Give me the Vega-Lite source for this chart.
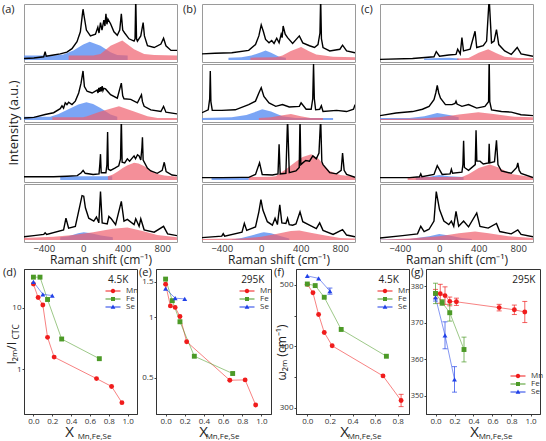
{
  "$schema": "https://vega.github.io/schema/vega-lite/v6.json",
  "padding": {"left": 2, "top": 3, "right": 0, "bottom": 0},
  "background": "white",
  "config": {
    "font": "Open Sans",
    "view": {"stroke": "#333", "strokeWidth": 1},
    "axis": {"grid": false, "titleFontWeight": "normal", "labelColor": "#333", "titleColor": "#222", "tickColor": "#444", "domainColor": "#333", "labelFontSize": 8, "tickSize": 2, "labelPadding": 1},
    "header": {"titleFontWeight": "normal"},
    "title": {"fontWeight": "normal", "fontSize": 11, "color": "#222"},
    "legend": {"title": null, "orient": "none", "labelFontSize": 8, "labelColor": "#333", "symbolSize": 25, "labelOffset": 9, "rowPadding": 0, "padding": 0, "symbolStrokeWidth": 0}
  },
  "datasets": {
    "spec": [
      {"p":"a","r":1,"k":"T","X":"X=0.22","T":"4.5K","N":"Ni₍₁₋ₓ₎MnₓPS₃"},
      {"p":"a","r":2,"k":"T","X":"X=0.22","T":"295K","N":""},
      {"p":"a","r":3,"k":"T","X":"X=0","T":"4.5K","N":""},
      {"p":"a","r":4,"k":"T","X":"X=0","T":"295K","N":""},
      {"p":"b","r":1,"k":"T","X":"X=0.7","T":"4.5K","N":"Ni₍₁₋ₓ₎FeₓPS₃"},
      {"p":"b","r":2,"k":"T","X":"X=0.7","T":"295K","N":""},
      {"p":"b","r":3,"k":"T","X":"X=0.07","T":"4.5K","N":""},
      {"p":"b","r":4,"k":"T","X":"X=0.07","T":"295K","N":""},
      {"p":"c","r":1,"k":"T","X":"X=0.2","T":"4.5K","N":"NiPS₃₋ₓSeₓ"},
      {"p":"c","r":2,"k":"T","X":"X=0.2","T":"295K","N":""},
      {"p":"c","r":3,"k":"T","X":"X=0.1","T":"4.5K","N":""},
      {"p":"c","r":4,"k":"T","X":"X=0.1","T":"295K","N":""},

      {"p":"a","r":1,"k":"L","x":-600,"y":6},{"p":"a","r":1,"k":"L","x":-500,"y":7},{"p":"a","r":1,"k":"L","x":-400,"y":9},{"p":"a","r":1,"k":"L","x":-386,"y":18},{"p":"a","r":1,"k":"L","x":-375,"y":10},{"p":"a","r":1,"k":"L","x":-300,"y":12},{"p":"a","r":1,"k":"L","x":-233,"y":14},{"p":"a","r":1,"k":"L","x":-165,"y":17},{"p":"a","r":1,"k":"L","x":-114,"y":23},{"p":"a","r":1,"k":"L","x":-63,"y":35},{"p":"a","r":1,"k":"L","x":-29,"y":52},{"p":"a","r":1,"k":"L","x":-10,"y":80},{"p":"a","r":1,"k":"L","x":-2,"y":91},{"p":"a","r":1,"k":"L","x":10,"y":78},{"p":"a","r":1,"k":"L","x":32,"y":55},{"p":"a","r":1,"k":"L","x":73,"y":45},{"p":"a","r":1,"k":"L","x":124,"y":48},{"p":"a","r":1,"k":"L","x":148,"y":60},{"p":"a","r":1,"k":"L","x":160,"y":50},{"p":"a","r":1,"k":"L","x":175,"y":68},{"p":"a","r":1,"k":"L","x":190,"y":55},{"p":"a","r":1,"k":"L","x":209,"y":72},{"p":"a","r":1,"k":"L","x":220,"y":62},{"p":"a","r":1,"k":"L","x":230,"y":83},{"p":"a","r":1,"k":"L","x":240,"y":65},{"p":"a","r":1,"k":"L","x":250,"y":74},{"p":"a","r":1,"k":"L","x":277,"y":66},{"p":"a","r":1,"k":"L","x":311,"y":52},{"p":"a","r":1,"k":"L","x":345,"y":46},{"p":"a","r":1,"k":"L","x":370,"y":55},{"p":"a","r":1,"k":"L","x":386,"y":83},{"p":"a","r":1,"k":"L","x":400,"y":55},{"p":"a","r":1,"k":"L","x":420,"y":50},{"p":"a","r":1,"k":"L","x":464,"y":40},{"p":"a","r":1,"k":"L","x":515,"y":36},{"p":"a","r":1,"k":"L","x":525,"y":40},{"p":"a","r":1,"k":"L","x":532,"y":110},{"p":"a","r":1,"k":"L","x":540,"y":40},{"p":"a","r":1,"k":"L","x":549,"y":36},{"p":"a","r":1,"k":"L","x":583,"y":45},{"p":"a","r":1,"k":"L","x":607,"y":68},{"p":"a","r":1,"k":"L","x":620,"y":45},{"p":"a","r":1,"k":"L","x":651,"y":28},{"p":"a","r":1,"k":"L","x":719,"y":25},{"p":"a","r":1,"k":"L","x":787,"y":31},{"p":"a","r":1,"k":"L","x":814,"y":41},{"p":"a","r":1,"k":"L","x":838,"y":28},{"p":"a","r":1,"k":"L","x":889,"y":20},{"p":"a","r":1,"k":"L","x":950,"y":20},
      {"p":"a","r":1,"k":"B","x":-600,"y":11},{"p":"a","r":1,"k":"B","x":-300,"y":11},{"p":"a","r":1,"k":"B","x":-200,"y":13},{"p":"a","r":1,"k":"B","x":-100,"y":20},{"p":"a","r":1,"k":"B","x":0,"y":30},{"p":"a","r":1,"k":"B","x":66,"y":35},{"p":"a","r":1,"k":"B","x":175,"y":28},{"p":"a","r":1,"k":"B","x":277,"y":17},{"p":"a","r":1,"k":"B","x":345,"y":12},{"p":"a","r":1,"k":"B","x":450,"y":11},
      {"p":"a","r":1,"k":"R","x":-148,"y":11},{"p":"a","r":1,"k":"R","x":100,"y":11},{"p":"a","r":1,"k":"R","x":175,"y":14},{"p":"a","r":1,"k":"R","x":277,"y":28},{"p":"a","r":1,"k":"R","x":396,"y":37},{"p":"a","r":1,"k":"R","x":515,"y":22},{"p":"a","r":1,"k":"R","x":617,"y":14},{"p":"a","r":1,"k":"R","x":719,"y":12},{"p":"a","r":1,"k":"R","x":950,"y":11},

      {"p":"a","r":2,"k":"L","x":-600,"y":7},{"p":"a","r":2,"k":"L","x":-500,"y":8},{"p":"a","r":2,"k":"L","x":-386,"y":13},{"p":"a","r":2,"k":"L","x":-300,"y":16},{"p":"a","r":2,"k":"L","x":-233,"y":23},{"p":"a","r":2,"k":"L","x":-215,"y":28},{"p":"a","r":2,"k":"L","x":-199,"y":24},{"p":"a","r":2,"k":"L","x":-182,"y":33},{"p":"a","r":2,"k":"L","x":-165,"y":30},{"p":"a","r":2,"k":"L","x":-148,"y":34},{"p":"a","r":2,"k":"L","x":-114,"y":30},{"p":"a","r":2,"k":"L","x":-80,"y":36},{"p":"a","r":2,"k":"L","x":-46,"y":50},{"p":"a","r":2,"k":"L","x":-22,"y":67},{"p":"a","r":2,"k":"L","x":-2,"y":88},{"p":"a","r":2,"k":"L","x":12,"y":61},{"p":"a","r":2,"k":"L","x":39,"y":53},{"p":"a","r":2,"k":"L","x":90,"y":50},{"p":"a","r":2,"k":"L","x":141,"y":55},{"p":"a","r":2,"k":"L","x":150,"y":50},{"p":"a","r":2,"k":"L","x":158,"y":59},{"p":"a","r":2,"k":"L","x":166,"y":52},{"p":"a","r":2,"k":"L","x":175,"y":60},{"p":"a","r":2,"k":"L","x":183,"y":53},{"p":"a","r":2,"k":"L","x":192,"y":62},{"p":"a","r":2,"k":"L","x":200,"y":54},{"p":"a","r":2,"k":"L","x":209,"y":58},{"p":"a","r":2,"k":"L","x":226,"y":57},{"p":"a","r":2,"k":"L","x":277,"y":47},{"p":"a","r":2,"k":"L","x":345,"y":41},{"p":"a","r":2,"k":"L","x":386,"y":67},{"p":"a","r":2,"k":"L","x":400,"y":45},{"p":"a","r":2,"k":"L","x":413,"y":40},{"p":"a","r":2,"k":"L","x":481,"y":39},{"p":"a","r":2,"k":"L","x":549,"y":33},{"p":"a","r":2,"k":"L","x":590,"y":47},{"p":"a","r":2,"k":"L","x":600,"y":35},{"p":"a","r":2,"k":"L","x":617,"y":27},{"p":"a","r":2,"k":"L","x":685,"y":21},{"p":"a","r":2,"k":"L","x":787,"y":18},{"p":"a","r":2,"k":"L","x":814,"y":27},{"p":"a","r":2,"k":"L","x":838,"y":17},{"p":"a","r":2,"k":"L","x":950,"y":14},
      {"p":"a","r":2,"k":"B","x":-600,"y":9},{"p":"a","r":2,"k":"B","x":-335,"y":9},{"p":"a","r":2,"k":"B","x":-250,"y":14},{"p":"a","r":2,"k":"B","x":-150,"y":22},{"p":"a","r":2,"k":"B","x":-50,"y":30},{"p":"a","r":2,"k":"B","x":32,"y":34},{"p":"a","r":2,"k":"B","x":100,"y":31},{"p":"a","r":2,"k":"B","x":175,"y":24},{"p":"a","r":2,"k":"B","x":277,"y":13},{"p":"a","r":2,"k":"B","x":345,"y":9},
      {"p":"a","r":2,"k":"R","x":-313,"y":8},{"p":"a","r":2,"k":"R","x":0,"y":8},{"p":"a","r":2,"k":"R","x":39,"y":10},{"p":"a","r":2,"k":"R","x":175,"y":18},{"p":"a","r":2,"k":"R","x":362,"y":27},{"p":"a","r":2,"k":"R","x":515,"y":18},{"p":"a","r":2,"k":"R","x":651,"y":10},{"p":"a","r":2,"k":"R","x":753,"y":7},{"p":"a","r":2,"k":"R","x":950,"y":7},

      {"p":"a","r":3,"k":"L","x":-600,"y":9},{"p":"a","r":3,"k":"L","x":-300,"y":9},{"p":"a","r":3,"k":"L","x":-165,"y":10},{"p":"a","r":3,"k":"L","x":-60,"y":11},{"p":"a","r":3,"k":"L","x":-20,"y":16},{"p":"a","r":3,"k":"L","x":-1,"y":20},{"p":"a","r":3,"k":"L","x":20,"y":15},{"p":"a","r":3,"k":"L","x":100,"y":13},{"p":"a","r":3,"k":"L","x":160,"y":14},{"p":"a","r":3,"k":"L","x":168,"y":30},{"p":"a","r":3,"k":"L","x":175,"y":48},{"p":"a","r":3,"k":"L","x":182,"y":16},{"p":"a","r":3,"k":"L","x":230,"y":16},{"p":"a","r":3,"k":"L","x":240,"y":30},{"p":"a","r":3,"k":"L","x":247,"y":86},{"p":"a","r":3,"k":"L","x":254,"y":22},{"p":"a","r":3,"k":"L","x":277,"y":20},{"p":"a","r":3,"k":"L","x":320,"y":24},{"p":"a","r":3,"k":"L","x":360,"y":28},{"p":"a","r":3,"k":"L","x":378,"y":40},{"p":"a","r":3,"k":"L","x":386,"y":110},{"p":"a","r":3,"k":"L","x":394,"y":34},{"p":"a","r":3,"k":"L","x":420,"y":33},{"p":"a","r":3,"k":"L","x":447,"y":40},{"p":"a","r":3,"k":"L","x":470,"y":36},{"p":"a","r":3,"k":"L","x":500,"y":42},{"p":"a","r":3,"k":"L","x":515,"y":45},{"p":"a","r":3,"k":"L","x":530,"y":40},{"p":"a","r":3,"k":"L","x":550,"y":47},{"p":"a","r":3,"k":"L","x":566,"y":45},{"p":"a","r":3,"k":"L","x":583,"y":38},{"p":"a","r":3,"k":"L","x":595,"y":60},{"p":"a","r":3,"k":"L","x":600,"y":77},{"p":"a","r":3,"k":"L","x":607,"y":38},{"p":"a","r":3,"k":"L","x":650,"y":24},{"p":"a","r":3,"k":"L","x":685,"y":19},{"p":"a","r":3,"k":"L","x":750,"y":15},{"p":"a","r":3,"k":"L","x":800,"y":20},{"p":"a","r":3,"k":"L","x":821,"y":34},{"p":"a","r":3,"k":"L","x":840,"y":18},{"p":"a","r":3,"k":"L","x":900,"y":12},{"p":"a","r":3,"k":"L","x":950,"y":11},
      {"p":"a","r":3,"k":"B","x":-233,"y":10},{"p":"a","r":3,"k":"B","x":294,"y":10},
      {"p":"a","r":3,"k":"R","x":250,"y":10},{"p":"a","r":3,"k":"R","x":300,"y":13},{"p":"a","r":3,"k":"R","x":350,"y":18},{"p":"a","r":3,"k":"R","x":400,"y":24},{"p":"a","r":3,"k":"R","x":450,"y":29},{"p":"a","r":3,"k":"R","x":515,"y":33},{"p":"a","r":3,"k":"R","x":560,"y":32},{"p":"a","r":3,"k":"R","x":620,"y":27},{"p":"a","r":3,"k":"R","x":685,"y":20},{"p":"a","r":3,"k":"R","x":750,"y":14},{"p":"a","r":3,"k":"R","x":820,"y":11},{"p":"a","r":3,"k":"R","x":950,"y":9},

      {"p":"a","r":4,"k":"L","x":-600,"y":9},{"p":"a","r":4,"k":"L","x":-500,"y":11},{"p":"a","r":4,"k":"L","x":-400,"y":13},{"p":"a","r":4,"k":"L","x":-386,"y":16},{"p":"a","r":4,"k":"L","x":-370,"y":13},{"p":"a","r":4,"k":"L","x":-199,"y":21},{"p":"a","r":4,"k":"L","x":-175,"y":41},{"p":"a","r":4,"k":"L","x":-148,"y":24},{"p":"a","r":4,"k":"L","x":-80,"y":27},{"p":"a","r":4,"k":"L","x":-36,"y":61},{"p":"a","r":4,"k":"L","x":-12,"y":80},{"p":"a","r":4,"k":"L","x":5,"y":79},{"p":"a","r":4,"k":"L","x":22,"y":59},{"p":"a","r":4,"k":"L","x":56,"y":41},{"p":"a","r":4,"k":"L","x":107,"y":36},{"p":"a","r":4,"k":"L","x":134,"y":43},{"p":"a","r":4,"k":"L","x":158,"y":33},{"p":"a","r":4,"k":"L","x":175,"y":87},{"p":"a","r":4,"k":"L","x":192,"y":33},{"p":"a","r":4,"k":"L","x":243,"y":31},{"p":"a","r":4,"k":"L","x":260,"y":44},{"p":"a","r":4,"k":"L","x":284,"y":40},{"p":"a","r":4,"k":"L","x":328,"y":30},{"p":"a","r":4,"k":"L","x":386,"y":70},{"p":"a","r":4,"k":"L","x":413,"y":36},{"p":"a","r":4,"k":"L","x":447,"y":39},{"p":"a","r":4,"k":"L","x":515,"y":30},{"p":"a","r":4,"k":"L","x":532,"y":40},{"p":"a","r":4,"k":"L","x":566,"y":27},{"p":"a","r":4,"k":"L","x":583,"y":40},{"p":"a","r":4,"k":"L","x":617,"y":21},{"p":"a","r":4,"k":"L","x":719,"y":17},{"p":"a","r":4,"k":"L","x":814,"y":27},{"p":"a","r":4,"k":"L","x":855,"y":14},{"p":"a","r":4,"k":"L","x":950,"y":11},
      {"p":"a","r":4,"k":"B","x":-233,"y":8},{"p":"a","r":4,"k":"B","x":-150,"y":10},{"p":"a","r":4,"k":"B","x":-50,"y":15},{"p":"a","r":4,"k":"B","x":5,"y":17},{"p":"a","r":4,"k":"B","x":80,"y":15},{"p":"a","r":4,"k":"B","x":180,"y":11},{"p":"a","r":4,"k":"B","x":300,"y":8},
      {"p":"a","r":4,"k":"R","x":-600,"y":7},{"p":"a","r":4,"k":"R","x":-300,"y":9},{"p":"a","r":4,"k":"R","x":-100,"y":12},{"p":"a","r":4,"k":"R","x":100,"y":17},{"p":"a","r":4,"k":"R","x":300,"y":23},{"p":"a","r":4,"k":"R","x":447,"y":25},{"p":"a","r":4,"k":"R","x":600,"y":19},{"p":"a","r":4,"k":"R","x":750,"y":12},{"p":"a","r":4,"k":"R","x":950,"y":8},

      {"p":"b","r":1,"k":"L","x":-600,"y":14},{"p":"b","r":1,"k":"L","x":-468,"y":15},{"p":"b","r":1,"k":"L","x":-298,"y":16},{"p":"b","r":1,"k":"L","x":-127,"y":20},{"p":"b","r":1,"k":"L","x":-58,"y":30},{"p":"b","r":1,"k":"L","x":-24,"y":45},{"p":"b","r":1,"k":"L","x":0,"y":64},{"p":"b","r":1,"k":"L","x":21,"y":53},{"p":"b","r":1,"k":"L","x":44,"y":39},{"p":"b","r":1,"k":"L","x":79,"y":33},{"p":"b","r":1,"k":"L","x":106,"y":37},{"p":"b","r":1,"k":"L","x":130,"y":32},{"p":"b","r":1,"k":"L","x":157,"y":41},{"p":"b","r":1,"k":"L","x":181,"y":33},{"p":"b","r":1,"k":"L","x":202,"y":48},{"p":"b","r":1,"k":"L","x":212,"y":42},{"p":"b","r":1,"k":"L","x":222,"y":62},{"p":"b","r":1,"k":"L","x":243,"y":48},{"p":"b","r":1,"k":"L","x":267,"y":42},{"p":"b","r":1,"k":"L","x":318,"y":32},{"p":"b","r":1,"k":"L","x":386,"y":45},{"p":"b","r":1,"k":"L","x":421,"y":33},{"p":"b","r":1,"k":"L","x":489,"y":28},{"p":"b","r":1,"k":"L","x":540,"y":25},{"p":"b","r":1,"k":"L","x":575,"y":30},{"p":"b","r":1,"k":"L","x":595,"y":50},{"p":"b","r":1,"k":"L","x":602,"y":110},{"p":"b","r":1,"k":"L","x":610,"y":40},{"p":"b","r":1,"k":"L","x":626,"y":25},{"p":"b","r":1,"k":"L","x":694,"y":19},{"p":"b","r":1,"k":"L","x":797,"y":22},{"p":"b","r":1,"k":"L","x":824,"y":29},{"p":"b","r":1,"k":"L","x":865,"y":19},{"p":"b","r":1,"k":"L","x":950,"y":16},
      {"p":"b","r":1,"k":"B","x":-332,"y":7.5},{"p":"b","r":1,"k":"B","x":-200,"y":8},{"p":"b","r":1,"k":"B","x":-100,"y":11},{"p":"b","r":1,"k":"B","x":0,"y":17},{"p":"b","r":1,"k":"B","x":44,"y":20},{"p":"b","r":1,"k":"B","x":100,"y":16},{"p":"b","r":1,"k":"B","x":181,"y":9},{"p":"b","r":1,"k":"B","x":250,"y":7.5},
      {"p":"b","r":1,"k":"R","x":-109,"y":7.5},{"p":"b","r":1,"k":"R","x":150,"y":8},{"p":"b","r":1,"k":"R","x":215,"y":11},{"p":"b","r":1,"k":"R","x":300,"y":19},{"p":"b","r":1,"k":"R","x":404,"y":26},{"p":"b","r":1,"k":"R","x":480,"y":19},{"p":"b","r":1,"k":"R","x":557,"y":13},{"p":"b","r":1,"k":"R","x":728,"y":9},{"p":"b","r":1,"k":"R","x":950,"y":8},

      {"p":"b","r":2,"k":"L","x":-600,"y":16},{"p":"b","r":2,"k":"L","x":-537,"y":21},{"p":"b","r":2,"k":"L","x":-522,"y":40},{"p":"b","r":2,"k":"L","x":-516,"y":88},{"p":"b","r":2,"k":"L","x":-510,"y":35},{"p":"b","r":2,"k":"L","x":-496,"y":20},{"p":"b","r":2,"k":"L","x":-400,"y":20},{"p":"b","r":2,"k":"L","x":-263,"y":21},{"p":"b","r":2,"k":"L","x":-127,"y":30},{"p":"b","r":2,"k":"L","x":-58,"y":36},{"p":"b","r":2,"k":"L","x":-24,"y":50},{"p":"b","r":2,"k":"L","x":0,"y":59},{"p":"b","r":2,"k":"L","x":27,"y":44},{"p":"b","r":2,"k":"L","x":79,"y":33},{"p":"b","r":2,"k":"L","x":147,"y":27},{"p":"b","r":2,"k":"L","x":215,"y":30},{"p":"b","r":2,"k":"L","x":284,"y":26},{"p":"b","r":2,"k":"L","x":386,"y":27},{"p":"b","r":2,"k":"L","x":404,"y":33},{"p":"b","r":2,"k":"L","x":455,"y":22},{"p":"b","r":2,"k":"L","x":506,"y":22},{"p":"b","r":2,"k":"L","x":522,"y":40},{"p":"b","r":2,"k":"L","x":530,"y":100},{"p":"b","r":2,"k":"L","x":538,"y":40},{"p":"b","r":2,"k":"L","x":551,"y":21},{"p":"b","r":2,"k":"L","x":592,"y":22},{"p":"b","r":2,"k":"L","x":609,"y":28},{"p":"b","r":2,"k":"L","x":626,"y":18},{"p":"b","r":2,"k":"L","x":763,"y":20},{"p":"b","r":2,"k":"L","x":865,"y":18},{"p":"b","r":2,"k":"L","x":935,"y":22},{"p":"b","r":2,"k":"L","x":950,"y":30},
      {"p":"b","r":2,"k":"B","x":-600,"y":7},{"p":"b","r":2,"k":"B","x":-300,"y":8},{"p":"b","r":2,"k":"B","x":-150,"y":12},{"p":"b","r":2,"k":"B","x":-50,"y":18},{"p":"b","r":2,"k":"B","x":10,"y":22},{"p":"b","r":2,"k":"B","x":100,"y":18},{"p":"b","r":2,"k":"B","x":215,"y":10},{"p":"b","r":2,"k":"B","x":350,"y":7},{"p":"b","r":2,"k":"B","x":728,"y":7},
      {"p":"b","r":2,"k":"R","x":-24,"y":7},{"p":"b","r":2,"k":"R","x":100,"y":8},{"p":"b","r":2,"k":"R","x":200,"y":11},{"p":"b","r":2,"k":"R","x":301,"y":14},{"p":"b","r":2,"k":"R","x":400,"y":10},{"p":"b","r":2,"k":"R","x":500,"y":7},{"p":"b","r":2,"k":"R","x":626,"y":7},

      {"p":"b","r":3,"k":"L","x":-600,"y":7.5},{"p":"b","r":3,"k":"L","x":-400,"y":7.5},{"p":"b","r":3,"k":"L","x":-200,"y":8},{"p":"b","r":3,"k":"L","x":-126,"y":8},{"p":"b","r":3,"k":"L","x":-58,"y":13},{"p":"b","r":3,"k":"L","x":-17,"y":33},{"p":"b","r":3,"k":"L","x":10,"y":13},{"p":"b","r":3,"k":"L","x":113,"y":12},{"p":"b","r":3,"k":"L","x":170,"y":14},{"p":"b","r":3,"k":"L","x":181,"y":65},{"p":"b","r":3,"k":"L","x":192,"y":14},{"p":"b","r":3,"k":"L","x":250,"y":15},{"p":"b","r":3,"k":"L","x":267,"y":110},{"p":"b","r":3,"k":"L","x":284,"y":16},{"p":"b","r":3,"k":"L","x":352,"y":19},{"p":"b","r":3,"k":"L","x":385,"y":25},{"p":"b","r":3,"k":"L","x":393,"y":110},{"p":"b","r":3,"k":"L","x":401,"y":30},{"p":"b","r":3,"k":"L","x":421,"y":33},{"p":"b","r":3,"k":"L","x":451,"y":37},{"p":"b","r":3,"k":"L","x":489,"y":36},{"p":"b","r":3,"k":"L","x":523,"y":45},{"p":"b","r":3,"k":"L","x":558,"y":40},{"p":"b","r":3,"k":"L","x":585,"y":50},{"p":"b","r":3,"k":"L","x":602,"y":110},{"p":"b","r":3,"k":"L","x":614,"y":35},{"p":"b","r":3,"k":"L","x":626,"y":30},{"p":"b","r":3,"k":"L","x":694,"y":16},{"p":"b","r":3,"k":"L","x":763,"y":14},{"p":"b","r":3,"k":"L","x":810,"y":20},{"p":"b","r":3,"k":"L","x":824,"y":50},{"p":"b","r":3,"k":"L","x":840,"y":20},{"p":"b","r":3,"k":"L","x":865,"y":13},{"p":"b","r":3,"k":"L","x":950,"y":8},
      {"p":"b","r":3,"k":"B","x":-503,"y":8.6},{"p":"b","r":3,"k":"B","x":-126,"y":8.6},
      {"p":"b","r":3,"k":"R","x":-126,"y":8.6},{"p":"b","r":3,"k":"R","x":100,"y":9},{"p":"b","r":3,"k":"R","x":147,"y":10},{"p":"b","r":3,"k":"R","x":250,"y":22},{"p":"b","r":3,"k":"R","x":350,"y":35},{"p":"b","r":3,"k":"R","x":420,"y":43},{"p":"b","r":3,"k":"R","x":506,"y":48},{"p":"b","r":3,"k":"R","x":580,"y":40},{"p":"b","r":3,"k":"R","x":640,"y":28},{"p":"b","r":3,"k":"R","x":694,"y":19},{"p":"b","r":3,"k":"R","x":800,"y":12},{"p":"b","r":3,"k":"R","x":950,"y":9},

      {"p":"b","r":4,"k":"L","x":-600,"y":7.6},{"p":"b","r":4,"k":"L","x":-400,"y":10},{"p":"b","r":4,"k":"L","x":-385,"y":14.5},{"p":"b","r":4,"k":"L","x":-370,"y":10},{"p":"b","r":4,"k":"L","x":-195,"y":17},{"p":"b","r":4,"k":"L","x":-171,"y":32},{"p":"b","r":4,"k":"L","x":-147,"y":20},{"p":"b","r":4,"k":"L","x":-58,"y":26},{"p":"b","r":4,"k":"L","x":-24,"y":52},{"p":"b","r":4,"k":"L","x":-3,"y":73},{"p":"b","r":4,"k":"L","x":17,"y":55},{"p":"b","r":4,"k":"L","x":62,"y":35},{"p":"b","r":4,"k":"L","x":113,"y":29},{"p":"b","r":4,"k":"L","x":140,"y":41},{"p":"b","r":4,"k":"L","x":164,"y":30},{"p":"b","r":4,"k":"L","x":188,"y":64},{"p":"b","r":4,"k":"L","x":209,"y":33},{"p":"b","r":4,"k":"L","x":250,"y":32},{"p":"b","r":4,"k":"L","x":267,"y":41},{"p":"b","r":4,"k":"L","x":284,"y":30},{"p":"b","r":4,"k":"L","x":318,"y":29},{"p":"b","r":4,"k":"L","x":352,"y":31},{"p":"b","r":4,"k":"L","x":393,"y":52},{"p":"b","r":4,"k":"L","x":421,"y":35},{"p":"b","r":4,"k":"L","x":489,"y":29},{"p":"b","r":4,"k":"L","x":558,"y":23},{"p":"b","r":4,"k":"L","x":592,"y":33},{"p":"b","r":4,"k":"L","x":626,"y":20},{"p":"b","r":4,"k":"L","x":728,"y":13},{"p":"b","r":4,"k":"L","x":824,"y":21.5},{"p":"b","r":4,"k":"L","x":865,"y":12},{"p":"b","r":4,"k":"L","x":950,"y":9},
      {"p":"b","r":4,"k":"B","x":-298,"y":4.5},{"p":"b","r":4,"k":"B","x":-200,"y":7},{"p":"b","r":4,"k":"B","x":-100,"y":11},{"p":"b","r":4,"k":"B","x":0,"y":16},{"p":"b","r":4,"k":"B","x":27,"y":17},{"p":"b","r":4,"k":"B","x":100,"y":15},{"p":"b","r":4,"k":"B","x":200,"y":10},{"p":"b","r":4,"k":"B","x":284,"y":6},
      {"p":"b","r":4,"k":"R","x":-600,"y":5},{"p":"b","r":4,"k":"R","x":-200,"y":6},{"p":"b","r":4,"k":"R","x":0,"y":9},{"p":"b","r":4,"k":"R","x":150,"y":14},{"p":"b","r":4,"k":"R","x":300,"y":19},{"p":"b","r":4,"k":"R","x":386,"y":20},{"p":"b","r":4,"k":"R","x":500,"y":16},{"p":"b","r":4,"k":"R","x":650,"y":11},{"p":"b","r":4,"k":"R","x":800,"y":7},{"p":"b","r":4,"k":"R","x":950,"y":6},

      {"p":"c","r":1,"k":"L","x":-600,"y":4.6},{"p":"c","r":1,"k":"L","x":-270,"y":6},{"p":"c","r":1,"k":"L","x":-53,"y":9},{"p":"c","r":1,"k":"L","x":-30,"y":18},{"p":"c","r":1,"k":"L","x":3,"y":10},{"p":"c","r":1,"k":"L","x":97,"y":12},{"p":"c","r":1,"k":"L","x":170,"y":13},{"p":"c","r":1,"k":"L","x":187,"y":22},{"p":"c","r":1,"k":"L","x":213,"y":14},{"p":"c","r":1,"k":"L","x":230,"y":42},{"p":"c","r":1,"k":"L","x":246,"y":19},{"p":"c","r":1,"k":"L","x":313,"y":22},{"p":"c","r":1,"k":"L","x":363,"y":53},{"p":"c","r":1,"k":"L","x":380,"y":25},{"p":"c","r":1,"k":"L","x":446,"y":28},{"p":"c","r":1,"k":"L","x":480,"y":36},{"p":"c","r":1,"k":"L","x":506,"y":110},{"p":"c","r":1,"k":"L","x":530,"y":33},{"p":"c","r":1,"k":"L","x":556,"y":36},{"p":"c","r":1,"k":"L","x":580,"y":56},{"p":"c","r":1,"k":"L","x":603,"y":30},{"p":"c","r":1,"k":"L","x":663,"y":19},{"p":"c","r":1,"k":"L","x":730,"y":13},{"p":"c","r":1,"k":"L","x":790,"y":25},{"p":"c","r":1,"k":"L","x":829,"y":14},{"p":"c","r":1,"k":"L","x":950,"y":10},
      {"p":"c","r":1,"k":"B","x":-153,"y":6},{"p":"c","r":1,"k":"B","x":0,"y":7},{"p":"c","r":1,"k":"B","x":100,"y":7.5},{"p":"c","r":1,"k":"B","x":197,"y":6},
      {"p":"c","r":1,"k":"R","x":180,"y":6},{"p":"c","r":1,"k":"R","x":297,"y":7},{"p":"c","r":1,"k":"R","x":400,"y":16},{"p":"c","r":1,"k":"R","x":496,"y":22},{"p":"c","r":1,"k":"R","x":580,"y":15},{"p":"c","r":1,"k":"R","x":663,"y":9},{"p":"c","r":1,"k":"R","x":800,"y":7},{"p":"c","r":1,"k":"R","x":950,"y":7},

      {"p":"c","r":2,"k":"L","x":-600,"y":11},{"p":"c","r":2,"k":"L","x":-437,"y":15.5},{"p":"c","r":2,"k":"L","x":-270,"y":18},{"p":"c","r":2,"k":"L","x":-170,"y":22},{"p":"c","r":2,"k":"L","x":-103,"y":27},{"p":"c","r":2,"k":"L","x":-53,"y":38.5},{"p":"c","r":2,"k":"L","x":-35,"y":50},{"p":"c","r":2,"k":"L","x":-20,"y":63},{"p":"c","r":2,"k":"L","x":-5,"y":50},{"p":"c","r":2,"k":"L","x":13,"y":41},{"p":"c","r":2,"k":"L","x":63,"y":30},{"p":"c","r":2,"k":"L","x":130,"y":30},{"p":"c","r":2,"k":"L","x":160,"y":32},{"p":"c","r":2,"k":"L","x":170,"y":36},{"p":"c","r":2,"k":"L","x":180,"y":31},{"p":"c","r":2,"k":"L","x":230,"y":27},{"p":"c","r":2,"k":"L","x":297,"y":30},{"p":"c","r":2,"k":"L","x":380,"y":24},{"p":"c","r":2,"k":"L","x":463,"y":27},{"p":"c","r":2,"k":"L","x":500,"y":35},{"p":"c","r":2,"k":"L","x":506,"y":110},{"p":"c","r":2,"k":"L","x":512,"y":35},{"p":"c","r":2,"k":"L","x":530,"y":21},{"p":"c","r":2,"k":"L","x":630,"y":18},{"p":"c","r":2,"k":"L","x":730,"y":17},{"p":"c","r":2,"k":"L","x":829,"y":12.6},{"p":"c","r":2,"k":"L","x":950,"y":11},
      {"p":"c","r":2,"k":"B","x":-600,"y":7},{"p":"c","r":2,"k":"B","x":-300,"y":7},{"p":"c","r":2,"k":"B","x":-150,"y":10},{"p":"c","r":2,"k":"B","x":-20,"y":15.5},{"p":"c","r":2,"k":"B","x":100,"y":12},{"p":"c","r":2,"k":"B","x":197,"y":8},
      {"p":"c","r":2,"k":"R","x":-600,"y":5},{"p":"c","r":2,"k":"R","x":-200,"y":6},{"p":"c","r":2,"k":"R","x":0,"y":8},{"p":"c","r":2,"k":"R","x":200,"y":13},{"p":"c","r":2,"k":"R","x":396,"y":17},{"p":"c","r":2,"k":"R","x":550,"y":14},{"p":"c","r":2,"k":"R","x":763,"y":9},{"p":"c","r":2,"k":"R","x":950,"y":8},

      {"p":"c","r":3,"k":"L","x":-600,"y":7.6},{"p":"c","r":3,"k":"L","x":-300,"y":7.6},{"p":"c","r":3,"k":"L","x":-200,"y":9},{"p":"c","r":3,"k":"L","x":-187,"y":14},{"p":"c","r":3,"k":"L","x":-175,"y":9},{"p":"c","r":3,"k":"L","x":-53,"y":13},{"p":"c","r":3,"k":"L","x":-20,"y":28},{"p":"c","r":3,"k":"L","x":30,"y":13},{"p":"c","r":3,"k":"L","x":110,"y":14},{"p":"c","r":3,"k":"L","x":123,"y":22},{"p":"c","r":3,"k":"L","x":135,"y":15},{"p":"c","r":3,"k":"L","x":230,"y":17},{"p":"c","r":3,"k":"L","x":240,"y":30},{"p":"c","r":3,"k":"L","x":247,"y":71},{"p":"c","r":3,"k":"L","x":255,"y":25},{"p":"c","r":3,"k":"L","x":297,"y":20},{"p":"c","r":3,"k":"L","x":365,"y":30},{"p":"c","r":3,"k":"L","x":373,"y":89},{"p":"c","r":3,"k":"L","x":381,"y":36},{"p":"c","r":3,"k":"L","x":413,"y":36},{"p":"c","r":3,"k":"L","x":446,"y":31},{"p":"c","r":3,"k":"L","x":500,"y":33},{"p":"c","r":3,"k":"L","x":506,"y":66},{"p":"c","r":3,"k":"L","x":513,"y":33},{"p":"c","r":3,"k":"L","x":560,"y":35},{"p":"c","r":3,"k":"L","x":580,"y":72},{"p":"c","r":3,"k":"L","x":595,"y":30},{"p":"c","r":3,"k":"L","x":630,"y":19},{"p":"c","r":3,"k":"L","x":730,"y":15},{"p":"c","r":3,"k":"L","x":785,"y":25},{"p":"c","r":3,"k":"L","x":796,"y":33},{"p":"c","r":3,"k":"L","x":810,"y":20},{"p":"c","r":3,"k":"L","x":829,"y":15},{"p":"c","r":3,"k":"L","x":950,"y":7.6},
      {"p":"c","r":3,"k":"B","x":-237,"y":8.6},{"p":"c","r":3,"k":"B","x":-100,"y":9},{"p":"c","r":3,"k":"B","x":0,"y":12},{"p":"c","r":3,"k":"B","x":100,"y":10},{"p":"c","r":3,"k":"B","x":247,"y":8.6},
      {"p":"c","r":3,"k":"R","x":-320,"y":8.6},{"p":"c","r":3,"k":"R","x":230,"y":8.6},{"p":"c","r":3,"k":"R","x":300,"y":14},{"p":"c","r":3,"k":"R","x":400,"y":24},{"p":"c","r":3,"k":"R","x":513,"y":30},{"p":"c","r":3,"k":"R","x":600,"y":25},{"p":"c","r":3,"k":"R","x":730,"y":14},{"p":"c","r":3,"k":"R","x":950,"y":8},

      {"p":"c","r":4,"k":"L","x":-600,"y":7},{"p":"c","r":4,"k":"L","x":-370,"y":11},{"p":"c","r":4,"k":"L","x":-220,"y":14},{"p":"c","r":4,"k":"L","x":-187,"y":27},{"p":"c","r":4,"k":"L","x":-153,"y":18},{"p":"c","r":4,"k":"L","x":-103,"y":22},{"p":"c","r":4,"k":"L","x":-53,"y":36},{"p":"c","r":4,"k":"L","x":-30,"y":87},{"p":"c","r":4,"k":"L","x":3,"y":56},{"p":"c","r":4,"k":"L","x":47,"y":36},{"p":"c","r":4,"k":"L","x":97,"y":30},{"p":"c","r":4,"k":"L","x":123,"y":36},{"p":"c","r":4,"k":"L","x":147,"y":27},{"p":"c","r":4,"k":"L","x":170,"y":53},{"p":"c","r":4,"k":"L","x":197,"y":27},{"p":"c","r":4,"k":"L","x":247,"y":36},{"p":"c","r":4,"k":"L","x":297,"y":26},{"p":"c","r":4,"k":"L","x":380,"y":50},{"p":"c","r":4,"k":"L","x":413,"y":27},{"p":"c","r":4,"k":"L","x":496,"y":24},{"p":"c","r":4,"k":"L","x":580,"y":32},{"p":"c","r":4,"k":"L","x":613,"y":18},{"p":"c","r":4,"k":"L","x":730,"y":14},{"p":"c","r":4,"k":"L","x":796,"y":21},{"p":"c","r":4,"k":"L","x":829,"y":13},{"p":"c","r":4,"k":"L","x":950,"y":9},
      {"p":"c","r":4,"k":"B","x":-600,"y":4},{"p":"c","r":4,"k":"B","x":-300,"y":5},{"p":"c","r":4,"k":"B","x":-100,"y":10},{"p":"c","r":4,"k":"B","x":0,"y":14},{"p":"c","r":4,"k":"B","x":100,"y":11},{"p":"c","r":4,"k":"B","x":230,"y":7},{"p":"c","r":4,"k":"B","x":330,"y":5},
      {"p":"c","r":4,"k":"R","x":-600,"y":4},{"p":"c","r":4,"k":"R","x":-300,"y":6},{"p":"c","r":4,"k":"R","x":0,"y":10},{"p":"c","r":4,"k":"R","x":200,"y":15},{"p":"c","r":4,"k":"R","x":363,"y":18},{"p":"c","r":4,"k":"R","x":500,"y":15},{"p":"c","r":4,"k":"R","x":700,"y":10},{"p":"c","r":4,"k":"R","x":950,"y":7}
    ],
    "pts": [
      {"g":"d","s":"Mn","x":0,"y":24},{"g":"d","s":"Mn","x":0.05,"y":14.5},{"g":"d","s":"Mn","x":0.1,"y":11},{"g":"d","s":"Mn","x":0.15,"y":3.3},{"g":"d","s":"Mn","x":0.22,"y":1.58},{"g":"d","s":"Mn","x":0.67,"y":0.71},{"g":"d","s":"Mn","x":0.83,"y":0.53},{"g":"d","s":"Mn","x":0.94,"y":0.29},
      {"g":"d","s":"Fe","x":0,"y":31},{"g":"d","s":"Fe","x":0.07,"y":31},{"g":"d","s":"Fe","x":0.15,"y":13.5},{"g":"d","s":"Fe","x":0.3,"y":3.1},{"g":"d","s":"Fe","x":0.7,"y":1.49},
      {"g":"d","s":"Se","x":0,"y":26},{"g":"d","s":"Se","x":0.1,"y":16.4},{"g":"d","s":"Se","x":0.2,"y":15.6},
      {"g":"e","s":"Mn","x":0,"y":1.46},{"g":"e","s":"Mn","x":0.05,"y":1.14},{"g":"e","s":"Mn","x":0.1,"y":1.12},{"g":"e","s":"Mn","x":0.15,"y":1.01},{"g":"e","s":"Mn","x":0.22,"y":0.756},{"g":"e","s":"Mn","x":0.67,"y":0.486},{"g":"e","s":"Mn","x":0.83,"y":0.488},{"g":"e","s":"Mn","x":0.94,"y":0.366},
      {"g":"e","s":"Fe","x":0,"y":1.55},{"g":"e","s":"Fe","x":0.07,"y":1.21},{"g":"e","s":"Fe","x":0.15,"y":0.95},{"g":"e","s":"Fe","x":0.3,"y":0.64},{"g":"e","s":"Fe","x":0.7,"y":0.525},
      {"g":"e","s":"Se","x":0,"y":1.39},{"g":"e","s":"Se","x":0.1,"y":1.245},{"g":"e","s":"Se","x":0.2,"y":1.235},
      {"g":"f","s":"Mn","x":0,"y":501},{"g":"f","s":"Mn","x":0.05,"y":487.4},{"g":"f","s":"Mn","x":0.1,"y":452},{"g":"f","s":"Mn","x":0.15,"y":422.7},{"g":"f","s":"Mn","x":0.22,"y":401},{"g":"f","s":"Mn","x":0.67,"y":352},{"g":"f","s":"Mn","x":0.83,"y":312,"e":10},
      {"g":"f","s":"Fe","x":0,"y":501.6},{"g":"f","s":"Fe","x":0.07,"y":499},{"g":"f","s":"Fe","x":0.15,"y":480},{"g":"f","s":"Fe","x":0.3,"y":427.6},{"g":"f","s":"Fe","x":0.7,"y":384},
      {"g":"f","s":"Se","x":0,"y":514.7},{"g":"f","s":"Se","x":0.1,"y":510.8},{"g":"f","s":"Se","x":0.2,"y":490,"e":5},
      {"g":"g","s":"Mn","x":0,"y":378,"e":1.2},{"g":"g","s":"Mn","x":0.05,"y":378,"e":2.6},{"g":"g","s":"Mn","x":0.1,"y":377.5,"e":2.4},{"g":"g","s":"Mn","x":0.15,"y":375.9,"e":1.2},{"g":"g","s":"Mn","x":0.22,"y":375.8,"e":1},{"g":"g","s":"Mn","x":0.67,"y":374.2,"e":0.9},{"g":"g","s":"Mn","x":0.83,"y":373.6,"e":1.3},{"g":"g","s":"Mn","x":0.94,"y":373,"e":2.9},
      {"g":"g","s":"Fe","x":0,"y":378.1,"e":2.8},{"g":"g","s":"Fe","x":0.07,"y":375.6,"e":0.8},{"g":"g","s":"Fe","x":0.15,"y":372.8,"e":2.3},{"g":"g","s":"Fe","x":0.3,"y":362.7,"e":3.4},
      {"g":"g","s":"Se","x":0,"y":377,"e":1},{"g":"g","s":"Se","x":0.1,"y":366.6,"e":3.7},{"g":"g","s":"Se","x":0.2,"y":354.5,"e":3.5}
    ]
  },
  "spacing": 0,
  "vconcat": [
    {
      "spacing": 5,
      "hconcat": [
        {
          "data": {"name": "spec"},
          "transform": [{"filter": "datum.p == 'a'"}],
          "title": {"text": "(a)", "anchor": "start", "frame": "group", "offset": 0, "baseline": "top", "dx": -22, "dy": 11},
          "facet": {"row": {"field": "r", "type": "ordinal", "header": {"title": "Intensity (a.u.)", "labels": false, "titleFontSize": 13, "titleColor": "#222", "titlePadding": -8}}},
          "spacing": 0,
          "spec": {
            "width": 153, "height": 58,
            "view": {"stroke": "#9a9a9a"},
            "encoding": {
              "x": {"field": "x", "type": "quantitative", "scale": {"domain": [-600, 950], "nice": false, "zero": false}, "axis": {"values": [-400, 0, 400, 800], "title": "Raman shift (cm⁻¹)", "domain": false, "ticks": false, "labelFontSize": 9.5, "titleFontSize": 12, "titlePadding": 2, "labelPadding": 0}},
              "y": {"field": "y", "type": "quantitative", "scale": {"domain": [0, 100], "nice": false}, "axis": null}
            },
            "layer": [
              {"transform": [{"filter": "datum.k == 'B'"}], "mark": {"type": "area", "color": "#5a8ef3", "opacity": 0.8, "clip": true}, "encoding": {"y2": {"datum": 3.5}}},
              {"transform": [{"filter": "datum.k == 'R'"}], "mark": {"type": "area", "color": "#f0606e", "opacity": 0.7, "clip": true}, "encoding": {"y2": {"datum": 3.5}}},
              {"transform": [{"filter": "datum.k == 'L'"}], "mark": {"type": "line", "color": "#000", "strokeWidth": 1.4, "clip": true}},
              {"transform": [{"filter": "datum.k == 'T'"}], "mark": {"type": "text", "align": "left", "baseline": "middle", "fontSize": 10, "color": "#222"}, "encoding": {"x": {"datum": -545}, "y": {"datum": 61}, "text": {"field": "X"}}},
              {"transform": [{"filter": "datum.k == 'T'"}], "mark": {"type": "text", "align": "right", "baseline": "middle", "fontSize": 10, "color": "#222"}, "encoding": {"x": {"datum": 905}, "y": {"datum": 87}, "text": {"field": "T"}}},
              {"transform": [{"filter": "datum.k == 'T'"}], "mark": {"type": "text", "align": "left", "baseline": "middle", "fontSize": 9.5, "color": "#222"}, "encoding": {"x": {"datum": -588}, "y": {"datum": 91}, "text": {"field": "N"}}}
            ]
          }
        },
        {
          "data": {"name": "spec"},
          "transform": [{"filter": "datum.p == 'b'"}],
          "title": {"text": "(b)", "anchor": "start", "frame": "group", "offset": 0, "baseline": "top", "dx": -19, "dy": 11},
          "facet": {"row": {"field": "r", "type": "ordinal", "header": null}},
          "spacing": 0,
          "spec": {
            "width": 153, "height": 58,
            "view": {"stroke": "#9a9a9a"},
            "encoding": {
              "x": {"field": "x", "type": "quantitative", "scale": {"domain": [-600, 950], "nice": false, "zero": false}, "axis": {"values": [-400, 0, 400, 800], "title": "Raman shift (cm⁻¹)", "domain": false, "ticks": false, "labelFontSize": 9.5, "titleFontSize": 12, "titlePadding": 2, "labelPadding": 0}},
              "y": {"field": "y", "type": "quantitative", "scale": {"domain": [0, 100], "nice": false}, "axis": null}
            },
            "layer": [
              {"transform": [{"filter": "datum.k == 'B'"}], "mark": {"type": "area", "color": "#5a8ef3", "opacity": 0.8, "clip": true}, "encoding": {"y2": {"datum": 3.5}}},
              {"transform": [{"filter": "datum.k == 'R'"}], "mark": {"type": "area", "color": "#f0606e", "opacity": 0.7, "clip": true}, "encoding": {"y2": {"datum": 3.5}}},
              {"transform": [{"filter": "datum.k == 'L'"}], "mark": {"type": "line", "color": "#000", "strokeWidth": 1.4, "clip": true}},
              {"transform": [{"filter": "datum.k == 'T'"}], "mark": {"type": "text", "align": "left", "baseline": "middle", "fontSize": 10, "color": "#222"}, "encoding": {"x": {"datum": -530}, "y": {"datum": 61}, "text": {"field": "X"}}},
              {"transform": [{"filter": "datum.k == 'T'"}], "mark": {"type": "text", "align": "right", "baseline": "middle", "fontSize": 10, "color": "#222"}, "encoding": {"x": {"datum": 925}, "y": {"datum": 87}, "text": {"field": "T"}}},
              {"transform": [{"filter": "datum.k == 'T'"}], "mark": {"type": "text", "align": "left", "baseline": "middle", "fontSize": 9.5, "color": "#222"}, "encoding": {"x": {"datum": -583}, "y": {"datum": 91}, "text": {"field": "N"}}}
            ]
          }
        },
        {
          "data": {"name": "spec"},
          "transform": [{"filter": "datum.p == 'c'"}],
          "title": {"text": "(c)", "anchor": "start", "frame": "group", "offset": 0, "baseline": "top", "dx": -19, "dy": 11},
          "facet": {"row": {"field": "r", "type": "ordinal", "header": null}},
          "spacing": 0,
          "spec": {
            "width": 153, "height": 58,
            "view": {"stroke": "#9a9a9a"},
            "encoding": {
              "x": {"field": "x", "type": "quantitative", "scale": {"domain": [-600, 950], "nice": false, "zero": false}, "axis": {"values": [-400, 0, 400, 800], "title": "Raman shift (cm⁻¹)", "domain": false, "ticks": false, "labelFontSize": 9.5, "titleFontSize": 12, "titlePadding": 2, "labelPadding": 0}},
              "y": {"field": "y", "type": "quantitative", "scale": {"domain": [0, 100], "nice": false}, "axis": null}
            },
            "layer": [
              {"transform": [{"filter": "datum.k == 'B'"}], "mark": {"type": "area", "color": "#5a8ef3", "opacity": 0.8, "clip": true}, "encoding": {"y2": {"datum": 3.5}}},
              {"transform": [{"filter": "datum.k == 'R'"}], "mark": {"type": "area", "color": "#f0606e", "opacity": 0.7, "clip": true}, "encoding": {"y2": {"datum": 3.5}}},
              {"transform": [{"filter": "datum.k == 'L'"}], "mark": {"type": "line", "color": "#000", "strokeWidth": 1.4, "clip": true}},
              {"transform": [{"filter": "datum.k == 'T'"}], "mark": {"type": "text", "align": "left", "baseline": "middle", "fontSize": 10, "color": "#222"}, "encoding": {"x": {"datum": -515}, "y": {"datum": 61}, "text": {"field": "X"}}},
              {"transform": [{"filter": "datum.k == 'T'"}], "mark": {"type": "text", "align": "right", "baseline": "middle", "fontSize": 10, "color": "#222"}, "encoding": {"x": {"datum": 935}, "y": {"datum": 87}, "text": {"field": "T"}}},
              {"transform": [{"filter": "datum.k == 'T'"}], "mark": {"type": "text", "align": "left", "baseline": "middle", "fontSize": 9.5, "color": "#222"}, "encoding": {"x": {"datum": -580}, "y": {"datum": 91}, "text": {"field": "N"}}}
            ]
          }
        }
      ]
    },
    {
      "spacing": -1,
      "hconcat": [
        {
          "bounds": "flush",
          "spacing": 19,
          "hconcat": [
            {
              "width": 113, "height": 145,
              "title": {"text": "(d)", "anchor": "start", "frame": "group", "offset": 0, "baseline": "top", "dx": -21, "dy": 9},
              "data": {"name": "pts"},
              "transform": [{"filter": "datum.g == 'd'"}],
              "layer": [
                {"mark": {"type": "line", "strokeWidth": 1, "opacity": 0.55},
                 "encoding": {
                   "x": {"field": "x", "type": "quantitative", "scale": {"domain": [-0.1, 1.1], "nice": false, "zero": false}, "axis": {"orient": "bottom", "values": [0, 0.2, 0.4, 0.6, 0.8, 1.0], "format": ".1f", "title": "X", "titleFontSize": 15, "titleX": 45, "titleY": 22, "titleBaseline": "alphabetic", "titleAlign": "center"}},
                   "y": {"field": "y", "type": "quantitative", "scale": {"type": "log", "domain": [0.19, 42], "nice": false}, "axis": {"orient": "left", "values": [1, 10], "format": "~g", "title": "I₂ₘ/I", "titleFontSize": 12, "titleAngle": -90, "titleAlign": "left", "titleBaseline": "alphabetic", "titleX": -9, "titleY": 95}},
                   "color": {"field": "s", "type": "nominal", "scale": {"domain": ["Mn", "Fe", "Se"], "range": ["#f01c1c", "#4c9a27", "#2141e8"]}, "legend": null}
                 }},
                {"mark": {"type": "point", "filled": true, "size": 24, "opacity": 1},
                 "encoding": {
                   "x": {"field": "x", "type": "quantitative", "axis": {"orient": "bottom", "labels": false, "ticks": false, "domain": false, "title": "Mn,Fe,Se", "titleFontSize": 8, "titleX": 70, "titleY": 24, "titleBaseline": "alphabetic", "titleAlign": "center"}},
                   "y": {"field": "y", "type": "quantitative", "axis": {"orient": "left", "labels": false, "ticks": false, "domain": false, "title": "CTC", "titleFontSize": 8.5, "titleAngle": -90, "titleAlign": "left", "titleBaseline": "alphabetic", "titleX": -6, "titleY": 70}},
                   "color": {"field": "s", "type": "nominal", "scale": {"domain": ["Mn", "Fe", "Se"], "range": ["#f01c1c", "#4c9a27", "#2141e8"]}, "legend": null},
                   "shape": {"field": "s", "type": "nominal", "scale": {"domain": ["Mn", "Fe", "Se"], "range": ["circle", "square", "triangle-up"]}, "legend": null}
                 }},
                {"transform": [{"filter": "false"}],
                 "mark": {"type": "point", "filled": true, "opacity": 1},
                 "encoding": {
                   "color": {"field": "s", "type": "nominal", "scale": {"domain": ["Mn", "Fe", "Se"], "range": ["#f01c1c", "#4c9a27", "#2141e8"]}, "legend": {"legendX": 85, "legendY": 18}},
                   "shape": {"field": "s", "type": "nominal", "scale": {"domain": ["Mn", "Fe", "Se"], "range": ["M-3,-0.2H3V0.2H-3Z M0.9,0A0.9,0.9 0 1,1 -0.9,0A0.9,0.9 0 1,1 0.9,0Z", "M-3,-0.2H3V0.2H-3Z M-0.8,-0.8H0.8V0.8H-0.8Z", "M-3,-0.2H3V0.2H-3Z M0,-1L0.95,0.7H-0.95Z"]}, "legend": {"legendX": 85, "legendY": 18}}
                 }},
                {"data": {"values": [{"t": "4.5K"}]},
                 "mark": {"type": "text", "fontSize": 10, "color": "#222", "baseline": "middle"},
                 "encoding": {"x": {"datum": 0.9, "axis": null}, "y": {"datum": 28, "axis": null}, "text": {"field": "t"}}}
              ],
              "resolve": {"scale": {"shape": "independent", "color": "independent"}, "axis": {"x": "independent", "y": "independent"}}
            },
            {
              "width": 115, "height": 145,
              "title": {"text": "(e)", "anchor": "start", "frame": "group", "offset": 0, "baseline": "top", "dx": -17, "dy": 9},
              "data": {"name": "pts"},
              "transform": [{"filter": "datum.g == 'e'"}],
              "layer": [
                {"mark": {"type": "line", "strokeWidth": 1, "opacity": 0.55},
                 "encoding": {
                   "x": {"field": "x", "type": "quantitative", "scale": {"domain": [-0.1, 1.1], "nice": false, "zero": false}, "axis": {"orient": "bottom", "values": [0, 0.2, 0.4, 0.6, 0.8, 1.0], "format": ".1f", "title": "X", "titleFontSize": 15, "titleX": 47, "titleY": 22, "titleBaseline": "alphabetic", "titleAlign": "center"}},
                   "y": {"field": "y", "type": "quantitative", "scale": {"type": "log", "domain": [0.33, 1.74], "nice": false}, "axis": {"orient": "left", "values": [0.5, 1, 1.5], "format": "~g", "title": null}},
                   "color": {"field": "s", "type": "nominal", "scale": {"domain": ["Mn", "Fe", "Se"], "range": ["#f01c1c", "#4c9a27", "#2141e8"]}, "legend": null}
                 }},
                {"mark": {"type": "point", "filled": true, "size": 24, "opacity": 1},
                 "encoding": {
                   "x": {"field": "x", "type": "quantitative", "axis": {"orient": "bottom", "labels": false, "ticks": false, "domain": false, "title": "Mn,Fe,Se", "titleFontSize": 8, "titleX": 66, "titleY": 24, "titleBaseline": "alphabetic", "titleAlign": "center"}},
                   "y": {"field": "y", "type": "quantitative", "axis": null},
                   "color": {"field": "s", "type": "nominal", "scale": {"domain": ["Mn", "Fe", "Se"], "range": ["#f01c1c", "#4c9a27", "#2141e8"]}, "legend": null},
                   "shape": {"field": "s", "type": "nominal", "scale": {"domain": ["Mn", "Fe", "Se"], "range": ["circle", "square", "triangle-up"]}, "legend": null}
                 }},
                {"transform": [{"filter": "false"}],
                 "mark": {"type": "point", "filled": true, "opacity": 1},
                 "encoding": {
                   "color": {"field": "s", "type": "nominal", "scale": {"domain": ["Mn", "Fe", "Se"], "range": ["#f01c1c", "#4c9a27", "#2141e8"]}, "legend": {"legendX": 87, "legendY": 18}},
                   "shape": {"field": "s", "type": "nominal", "scale": {"domain": ["Mn", "Fe", "Se"], "range": ["M-3,-0.2H3V0.2H-3Z M0.9,0A0.9,0.9 0 1,1 -0.9,0A0.9,0.9 0 1,1 0.9,0Z", "M-3,-0.2H3V0.2H-3Z M-0.8,-0.8H0.8V0.8H-0.8Z", "M-3,-0.2H3V0.2H-3Z M0,-1L0.95,0.7H-0.95Z"]}, "legend": {"legendX": 87, "legendY": 18}}
                 }},
                {"data": {"values": [{"t": "295K"}]},
                 "mark": {"type": "text", "fontSize": 10, "color": "#222", "baseline": "middle"},
                 "encoding": {"x": {"datum": 0.91, "axis": null}, "y": {"datum": 1.53, "axis": null}, "text": {"field": "t"}}}
              ],
              "resolve": {"scale": {"shape": "independent", "color": "independent"}, "axis": {"x": "independent", "y": "independent"}}
            }
          ]
        },
        {
          "bounds": "flush",
          "spacing": 17,
          "hconcat": [
            {
              "width": 113, "height": 145,
              "title": {"text": "(f)", "anchor": "start", "frame": "group", "offset": 0, "baseline": "top", "dx": -22, "dy": 9},
              "data": {"name": "pts"},
              "transform": [{"filter": "datum.g == 'f'"}],
              "layer": [
                {"mark": {"type": "line", "strokeWidth": 1, "opacity": 0.55},
                 "encoding": {
                   "x": {"field": "x", "type": "quantitative", "scale": {"domain": [-0.1, 0.9], "nice": false, "zero": false}, "axis": {"orient": "bottom", "values": [0, 0.2, 0.4, 0.6, 0.8], "format": ".1f", "title": "X", "titleFontSize": 15, "titleX": 48, "titleY": 22, "titleBaseline": "alphabetic", "titleAlign": "center"}},
                   "y": {"field": "y", "type": "quantitative", "scale": {"domain": [290, 526], "nice": false, "zero": false}, "axis": {"orient": "left", "values": [300, 350, 400, 450, 500], "labelExpr": "datum.value % 100 == 0 ? datum.label : ''", "title": "ω₂ₘ (cm⁻¹)", "titleFontSize": 12, "titleAngle": -90, "titleAlign": "center", "titleBaseline": "alphabetic", "titleX": -11, "titleY": 83}},
                   "color": {"field": "s", "type": "nominal", "scale": {"domain": ["Mn", "Fe", "Se"], "range": ["#f01c1c", "#4c9a27", "#2141e8"]}, "legend": null}
                 }},
                {"transform": [{"filter": "isValid(datum.e)"}],
                 "mark": {"type": "errorbar", "ticks": {"size": 5}, "thickness": 1, "opacity": 0.7},
                 "encoding": {
                   "x": {"field": "x", "type": "quantitative", "axis": null},
                   "y": {"field": "y", "type": "quantitative", "axis": null},
                   "yError": {"field": "e"},
                   "color": {"field": "s", "type": "nominal", "scale": {"domain": ["Mn", "Fe", "Se"], "range": ["#f01c1c", "#4c9a27", "#2141e8"]}, "legend": null}
                 }},
                {"mark": {"type": "point", "filled": true, "size": 24, "opacity": 1},
                 "encoding": {
                   "x": {"field": "x", "type": "quantitative", "axis": {"orient": "bottom", "labels": false, "ticks": false, "domain": false, "title": "Mn,Fe,Se", "titleFontSize": 8, "titleX": 68, "titleY": 24, "titleBaseline": "alphabetic", "titleAlign": "center"}},
                   "y": {"field": "y", "type": "quantitative", "axis": null},
                   "color": {"field": "s", "type": "nominal", "scale": {"domain": ["Mn", "Fe", "Se"], "range": ["#f01c1c", "#4c9a27", "#2141e8"]}, "legend": null},
                   "shape": {"field": "s", "type": "nominal", "scale": {"domain": ["Mn", "Fe", "Se"], "range": ["circle", "square", "triangle-up"]}, "legend": null}
                 }},
                {"transform": [{"filter": "false"}],
                 "mark": {"type": "point", "filled": true, "opacity": 1},
                 "encoding": {
                   "color": {"field": "s", "type": "nominal", "scale": {"domain": ["Mn", "Fe", "Se"], "range": ["#f01c1c", "#4c9a27", "#2141e8"]}, "legend": {"legendX": 85, "legendY": 18}},
                   "shape": {"field": "s", "type": "nominal", "scale": {"domain": ["Mn", "Fe", "Se"], "range": ["M-3,-0.2H3V0.2H-3Z M0.9,0A0.9,0.9 0 1,1 -0.9,0A0.9,0.9 0 1,1 0.9,0Z", "M-3,-0.2H3V0.2H-3Z M-0.8,-0.8H0.8V0.8H-0.8Z", "M-3,-0.2H3V0.2H-3Z M0,-1L0.95,0.7H-0.95Z"]}, "legend": {"legendX": 85, "legendY": 18}}
                 }},
                {"data": {"values": [{"t": "4.5K"}]},
                 "mark": {"type": "text", "fontSize": 10, "color": "#222", "baseline": "middle"},
                 "encoding": {"x": {"datum": 0.72, "axis": null}, "y": {"datum": 508, "axis": null}, "text": {"field": "t"}}}
              ],
              "resolve": {"scale": {"shape": "independent", "color": "independent"}, "axis": {"x": "independent", "y": "independent"}}
            },
            {
              "width": 114, "height": 145,
              "title": {"text": "(g)", "anchor": "start", "frame": "group", "offset": 0, "baseline": "top", "dx": -15, "dy": 9},
              "data": {"name": "pts"},
              "transform": [{"filter": "datum.g == 'g'"}],
              "layer": [
                {"mark": {"type": "line", "strokeWidth": 1, "opacity": 0.55},
                 "encoding": {
                   "x": {"field": "x", "type": "quantitative", "scale": {"domain": [-0.1, 1.1], "nice": false, "zero": false}, "axis": {"orient": "bottom", "values": [0, 0.2, 0.4, 0.6, 0.8, 1.0], "format": ".1f", "title": "X", "titleFontSize": 15, "titleX": 48, "titleY": 22, "titleBaseline": "alphabetic", "titleAlign": "center"}},
                   "y": {"field": "y", "type": "quantitative", "scale": {"domain": [345, 384.8], "nice": false, "zero": false}, "axis": {"orient": "left", "values": [350, 360, 370, 380], "title": null, "labelFontSize": 7.5}},
                   "color": {"field": "s", "type": "nominal", "scale": {"domain": ["Mn", "Fe", "Se"], "range": ["#f01c1c", "#4c9a27", "#2141e8"]}, "legend": null}
                 }},
                {"mark": {"type": "errorbar", "ticks": {"size": 5}, "thickness": 1, "opacity": 0.7},
                 "encoding": {
                   "x": {"field": "x", "type": "quantitative", "axis": null},
                   "y": {"field": "y", "type": "quantitative", "axis": null},
                   "yError": {"field": "e"},
                   "color": {"field": "s", "type": "nominal", "scale": {"domain": ["Mn", "Fe", "Se"], "range": ["#f01c1c", "#4c9a27", "#2141e8"]}, "legend": null}
                 }},
                {"mark": {"type": "point", "filled": true, "size": 24, "opacity": 1},
                 "encoding": {
                   "x": {"field": "x", "type": "quantitative", "axis": {"orient": "bottom", "labels": false, "ticks": false, "domain": false, "title": "Mn,Fe,Se", "titleFontSize": 8, "titleX": 69, "titleY": 24, "titleBaseline": "alphabetic", "titleAlign": "center"}},
                   "y": {"field": "y", "type": "quantitative", "axis": null},
                   "color": {"field": "s", "type": "nominal", "scale": {"domain": ["Mn", "Fe", "Se"], "range": ["#f01c1c", "#4c9a27", "#2141e8"]}, "legend": null},
                   "shape": {"field": "s", "type": "nominal", "scale": {"domain": ["Mn", "Fe", "Se"], "range": ["circle", "square", "triangle-up"]}, "legend": null}
                 }},
                {"transform": [{"filter": "false"}],
                 "mark": {"type": "point", "filled": true, "opacity": 1},
                 "encoding": {
                   "color": {"field": "s", "type": "nominal", "scale": {"domain": ["Mn", "Fe", "Se"], "range": ["#f01c1c", "#4c9a27", "#2141e8"]}, "legend": {"legendX": 88, "legendY": 103}},
                   "shape": {"field": "s", "type": "nominal", "scale": {"domain": ["Mn", "Fe", "Se"], "range": ["M-3,-0.2H3V0.2H-3Z M0.9,0A0.9,0.9 0 1,1 -0.9,0A0.9,0.9 0 1,1 0.9,0Z", "M-3,-0.2H3V0.2H-3Z M-0.8,-0.8H0.8V0.8H-0.8Z", "M-3,-0.2H3V0.2H-3Z M0,-1L0.95,0.7H-0.95Z"]}, "legend": {"legendX": 88, "legendY": 103}}
                 }},
                {"data": {"values": [{"t": "295K"}]},
                 "mark": {"type": "text", "fontSize": 10, "color": "#222", "baseline": "middle"},
                 "encoding": {"x": {"datum": 0.93, "axis": null}, "y": {"datum": 381.7, "axis": null}, "text": {"field": "t"}}}
              ],
              "resolve": {"scale": {"shape": "independent", "color": "independent"}, "axis": {"x": "independent", "y": "independent"}}
            }
          ]
        }
      ]
    }
  ]
}
